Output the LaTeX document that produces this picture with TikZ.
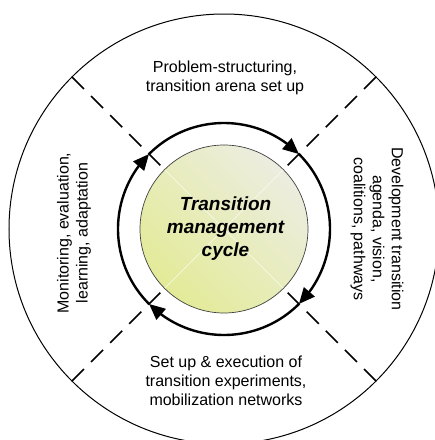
\documentclass[tikz,border=0pt]{standalone}
\usepackage{fontspec}
\setmainfont{Liberation Sans}
\usetikzlibrary{arrows.meta,bending,calc}
\definecolor{glight}{RGB}{236,237,224}
\definecolor{gdark}{RGB}{227,235,152}
\begin{document}
\begin{tikzpicture}[x=1pt,y=1pt,
  lbl/.style={font=\fontsize{16}{19}\selectfont, align=center, inner sep=0pt},
  title/.style={font=\fontsize{19}{23}\selectfont\bfseries\itshape, align=center, inner sep=0pt},
  ringarc/.style={line width=2.4pt, -{Triangle[length=16pt,width=14pt]}},
  sep/.style={line width=1.7pt, dash pattern=on 17pt off 10pt},
]
\useasboundingbox (-224,-211) rectangle (211,229);
\coordinate (c) at (0,0);
% outer circle
\draw[line width=1pt] (c) circle[radius=215];
% dashed separators
\foreach \a in {45,135,225,315}
  \draw[sep] ($(c)+(\a:215)$) -- ($(c)+(\a:89)$);
% inner green disc
\shade[top color=glight, bottom color=gdark, shading angle=-45] (c) circle[radius=84];
\draw[white, line width=0.5pt, opacity=0.8] (45:84) -- (225:84) (135:84) -- (315:84);
\draw[line width=0.7pt, black!75] (c) circle[radius=84];
% cycle arrows
\draw[ringarc] (135:106) arc[start angle=135, end angle=45, radius=106];
\draw[ringarc] (45:106) arc[start angle=45, end angle=-45, radius=106];
\draw[ringarc] (-45:106) arc[start angle=-45, end angle=-135, radius=106];
\draw[ringarc] (-135:106) arc[start angle=-135, end angle=-225, radius=106];
% labels
\node[title] (mid) at (1.5,0) {Transition\\management\\cycle};
\node[lbl] (top) at (1,151.5) {Problem-structuring,\\transition arena set up};
\node[lbl] (bot) at (2,-151.5) {Set up \& execution of\\transition experiments,\\mobilization networks};
\node[lbl, rotate=90] (left) at (-150,-4) {Monitoring, evaluation,\\learning, adaptation};
\node[lbl, rotate=-90] (right) at (153,0) {Development transition\\agenda, vision,\\coalitions, pathways};
\end{tikzpicture}
\end{document}
